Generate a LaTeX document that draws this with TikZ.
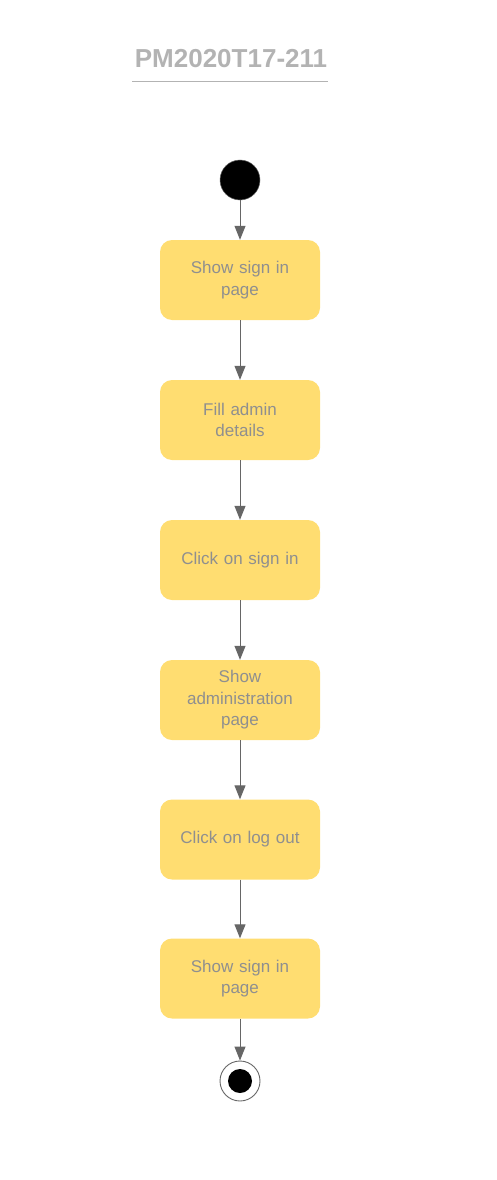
\documentclass[tikz,border=0pt]{standalone}
\usepackage{fontspec}
\setmainfont{Liberation Sans}
\usetikzlibrary{arrows.meta}
\definecolor{boxfill}{HTML}{FFDD71}
\definecolor{boxtext}{HTML}{8F8F8F}
\definecolor{linegray}{HTML}{666666}
\definecolor{titlegray}{HTML}{B3B3B3}
\begin{document}
\begin{tikzpicture}[x=1pt,y=1pt,yscale=-1,xscale=1,
    state/.style={draw=none,fill=boxfill,rounded corners=12pt,minimum width=160pt,minimum height=80pt,inner sep=0pt,align=center,text width=150pt,text=boxtext,font=\fontsize{17}{21.5}\selectfont},
    flow/.style={draw=linegray,line width=1pt,-{Triangle[length=14pt,width=11pt]}}]
        \path[use as bounding box] (0,0) rectangle (496,1180);

        % Title
        \node (title) at (231,59) [text=titlegray,font=\fontsize{26}{30}\bfseries] {PM2020T17-211};
        \draw [titlegray,line width=1.5pt] (132,81.5) -- (328,81.5);

        %Initial node
        \node (start) at (240,180) [circle,fill=black,draw=linegray,line width=0.5pt,minimum size=40pt,inner sep=0pt] {};

        % Text Node
        \node (signin) at (240,280) [state] {Show sign in\\page};
        % Text Node
        \node (fill) at (240,420) [state] {Fill admin\\details};
        % Text Node
        \node (click) at (240,560) [state] {Click on sign in};
        % Text Node
        \node (admin) at (240,700) [state] {Show\\administration\\page};
        % Text Node
        \node (logout) at (240,839.5) [state] {Click on log out};
        % Text Node
        \node (signinb) at (240,978.5) [state] {Show sign in\\page};

        %Final node
        \node (stop) at (240,1081) [circle,draw=linegray,line width=0.9pt,minimum size=40pt,inner sep=0pt] {};
        \node (stopdot) at (240,1081) [circle,fill=black,minimum size=24pt,inner sep=0pt] {};

        %Straight Lines
        \draw [flow] (start) -- (signin);
        \draw [flow] (signin) -- (fill);
        \draw [flow] (fill) -- (click);
        \draw [flow] (click) -- (admin);
        \draw [flow] (admin) -- (logout);
        \draw [flow] (logout) -- (signinb);
        \draw [flow] (signinb) -- (stop);
\end{tikzpicture}
\end{document}
